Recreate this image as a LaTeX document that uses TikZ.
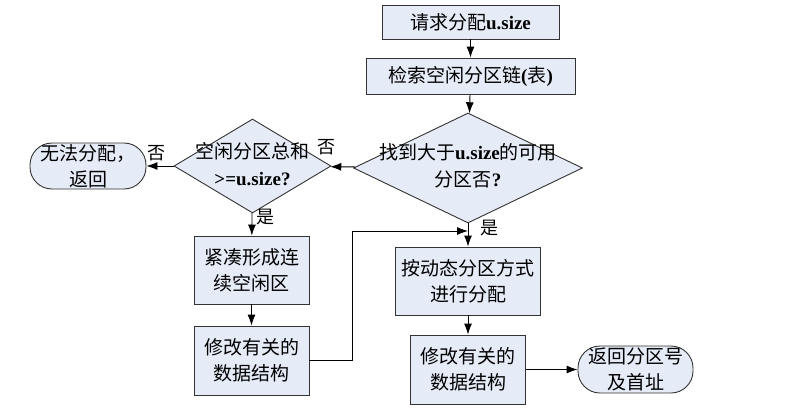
\documentclass[tikz,border=0pt]{standalone}
\usepackage{fontspec}
\setmainfont{Liberation Serif}
\newfontfamily\cjk{Noto Sans CJK SC}
\usetikzlibrary{arrows.meta,shapes.geometric}
\definecolor{boxfill}{RGB}{230,236,247}
\tikzset{
  procbox/.style={draw=black!80, fill=boxfill, line width=0.9pt, inner sep=0pt, align=center,
                  font=\fontsize{19}{26}\selectfont\cjk},
  termbox/.style={procbox, rounded corners=22pt},
  decision/.style={draw=black!80, fill=boxfill, line width=0.9pt, diamond, inner sep=0pt},
  decisiontext/.style={inner sep=0pt, align=center, font=\fontsize{19}{27}\selectfont\cjk},
  answer/.style={inner sep=0pt, font=\fontsize{18}{20}\selectfont\cjk},
  flow/.style={line width=0.9pt, -{Latex[length=11pt,width=8pt]}}
}
\newcommand{\lat}[1]{{\fontspec{Liberation Serif}\bfseries #1}}
\begin{document}
\begin{tikzpicture}[x=1pt,y=-1pt]
			%%%%% START %%%%%
			\useasboundingbox (0,0) rectangle (787,418);
			
			\node[procbox, minimum width=177pt, minimum height=34pt] (request) at (470.5,22) {请求分配\lat{u.size}};
			\node[procbox, minimum width=209pt, minimum height=36pt] (search) at (470.5,76) {检索空闲分区链\lat{(}表\lat{)}};
			
			\node[decision, minimum width=229pt, minimum height=110pt] (found) at (468,168) {};
			\node[decisiontext] (foundtext) at (468,166) {找到大于\lat{u.size}的可用\\分区否\lat{?}};
			
			\node[decision, minimum width=157pt, minimum height=94pt] (total) at (252.5,166) {};
			\node[decisiontext] (totaltext) at (252.5,164) {空闲分区总和\\\lat{>=u.size?}};
			
			\node[termbox, minimum width=116pt, minimum height=46pt] (fail) at (88,166) {无法分配，\\返回};
			
			\node[procbox, minimum width=115pt, minimum height=68pt] (compact) at (251.5,270) {紧凑形成连\\续空闲区};
			\node[procbox, minimum width=115pt, minimum height=69pt] (modleft) at (251.5,360.5) {修改有关的\\数据结构};
			
			\node[procbox, minimum width=145pt, minimum height=68pt] (alloc) at (468,281) {按动态分区方式\\进行分配};
			\node[procbox, minimum width=115pt, minimum height=69pt] (modright) at (468,369.5) {修改有关的\\数据结构};
			\node[termbox, minimum width=115pt, minimum height=47pt] (done) at (635.5,369.5) {返回分区号\\及首址};
			
			\draw[flow] (request) -- (search);
			\draw[flow] (search) -- (found);
			\draw[flow] (found) -- (total);
			\draw[flow] (total) -- (fail);
			\draw[flow] (total) -- (compact);
			\draw[flow] (compact) -- (modleft);
			\draw[flow] (found) -- (alloc);
			\draw[flow] (alloc) -- (modright);
			\draw[flow] (modright) -- (done);
			
			\coordinate (bend) at (352,231);
			\coordinate (join) at (found.south |- bend);
			\draw[flow] (modleft.east) -| (bend) -- (join);
			
			\node[answer] (nofound) at (326,147) {否};
			\node[answer] (nototal) at (156,153) {否};
			\node[answer] (yestotal) at (265,217) {是};
			\node[answer] (yesfound) at (489,228) {是};
			
			%%%%% END %%%%%
		\end{tikzpicture}
\end{document}
